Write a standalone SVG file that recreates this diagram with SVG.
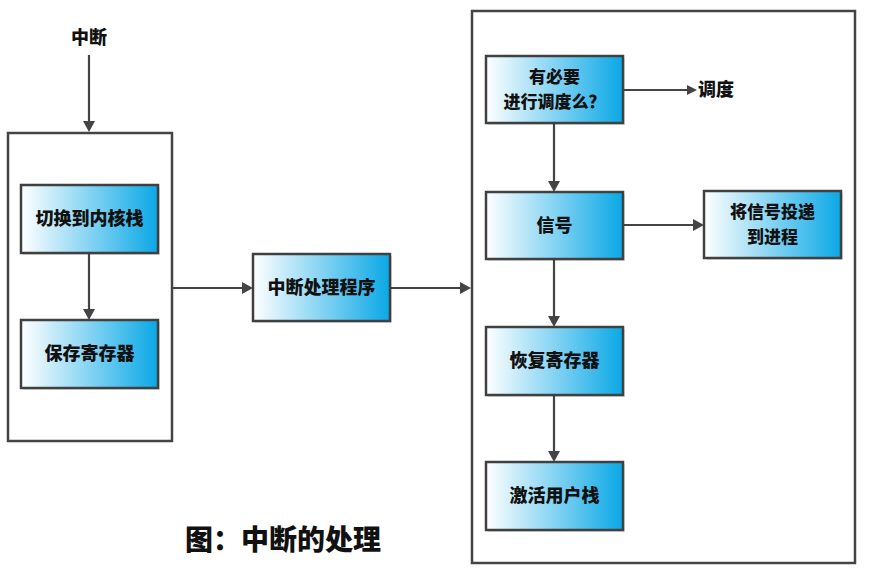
<svg xmlns="http://www.w3.org/2000/svg" width="871" height="574" viewBox="0 0 871 574">
<style>
.frame{fill:#fff;stroke:#444;stroke-width:2.5}
.box{fill:url(#g);stroke:#404040;stroke-width:2.5}
.shadow{fill:#000;opacity:0.12}
.t{font-family:"Noto Sans CJK SC","Noto Sans",sans-serif;font-weight:900;font-size:18px;fill:#111;text-anchor:middle}
.t2{font-size:17px}
.ln{stroke:#444;stroke-width:2.2;fill:none}
.ah{fill:#444}
</style>
<defs>
<linearGradient id="g" x1="0" y1="0" x2="1" y2="0">
<stop offset="0" stop-color="#ffffff"/>
<stop offset="1" stop-color="#0aa8e6"/>
</linearGradient>
</defs>
<rect width="871" height="574" fill="#fff"/>
<g id="left-container"><rect class="frame" x="8" y="133" width="164" height="308"/></g>
<g id="right-container"><rect class="frame" x="472" y="11" width="383" height="552"/></g>
<g id="connectors">
<path class="ln" d="M89,55 V122"/><path class="ah" d="M83,121 L89,132 L95,121 z"/>
<path class="ln" d="M89,253 V310"/><path class="ah" d="M83,309 L89,320 L95,309 z"/>
<path class="ln" d="M172,288 H243"/><path class="ah" d="M242,282 L253,288 L242,294 z"/>
<path class="ln" d="M390,288 H461"/><path class="ah" d="M460,282 L471,288 L460,294 z"/>
<path class="ln" d="M623,90 H688"/><path class="ah" d="M687,85 L697,90 L687,95 z"/>
<path class="ln" d="M554,123 V182"/><path class="ah" d="M548,181 L554,192 L560,181 z"/>
<path class="ln" d="M623,225 H694"/><path class="ah" d="M693,219 L704,225 L693,231 z"/>
<path class="ln" d="M554,259 V317"/><path class="ah" d="M548,316 L554,327 L560,316 z"/>
<path class="ln" d="M554,395 V452"/><path class="ah" d="M548,451 L554,462 L560,451 z"/>
</g>
<g id="n-interrupt"><text class="t" x="89" y="44">中断</text></g>
<g id="n-switch"><rect class="shadow" x="23" y="187" width="137" height="68"/><rect class="box" x="21" y="185" width="137" height="68"/><text class="t" x="89.5" y="225">切换到内核栈</text></g>
<g id="n-save"><rect class="shadow" x="23" y="322" width="137" height="68"/><rect class="box" x="21" y="320" width="137" height="68"/><text class="t" x="89.5" y="360">保存寄存器</text></g>
<g id="n-handler"><rect class="shadow" x="255" y="256" width="137" height="67"/><rect class="box" x="253" y="254" width="137" height="67"/><text class="t" x="321.5" y="294">中断处理程序</text></g>
<g id="n-need"><rect class="shadow" x="488" y="58" width="137" height="67"/><rect class="box" x="486" y="56" width="137" height="67"/><text class="t t2" x="554.5" y="83">有必要</text><text class="t t2" x="554.5" y="108">进行调度么？</text></g>
<g id="n-sched"><text class="t" x="716" y="96">调度</text></g>
<g id="n-signal"><rect class="shadow" x="488" y="194" width="137" height="67"/><rect class="box" x="486" y="192" width="137" height="67"/><text class="t" x="554.5" y="232">信号</text></g>
<g id="n-deliver"><rect class="shadow" x="706" y="193" width="137" height="67"/><rect class="box" x="704" y="191" width="137" height="67"/><text class="t t2" x="772.5" y="218">将信号投递</text><text class="t t2" x="772.5" y="243">到进程</text></g>
<g id="n-restore"><rect class="shadow" x="488" y="329" width="137" height="68"/><rect class="box" x="486" y="327" width="137" height="68"/><text class="t" x="554.5" y="367">恢复寄存器</text></g>
<g id="n-activate"><rect class="shadow" x="488" y="464" width="137" height="68"/><rect class="box" x="486" y="462" width="137" height="68"/><text class="t" x="554.5" y="502">激活用户栈</text></g>
<g id="caption"><text x="283" y="550" style="font-family:'Noto Sans CJK SC',sans-serif;font-weight:900;font-size:28px;fill:#111;text-anchor:middle">图：中断的处理</text></g>
</svg>
